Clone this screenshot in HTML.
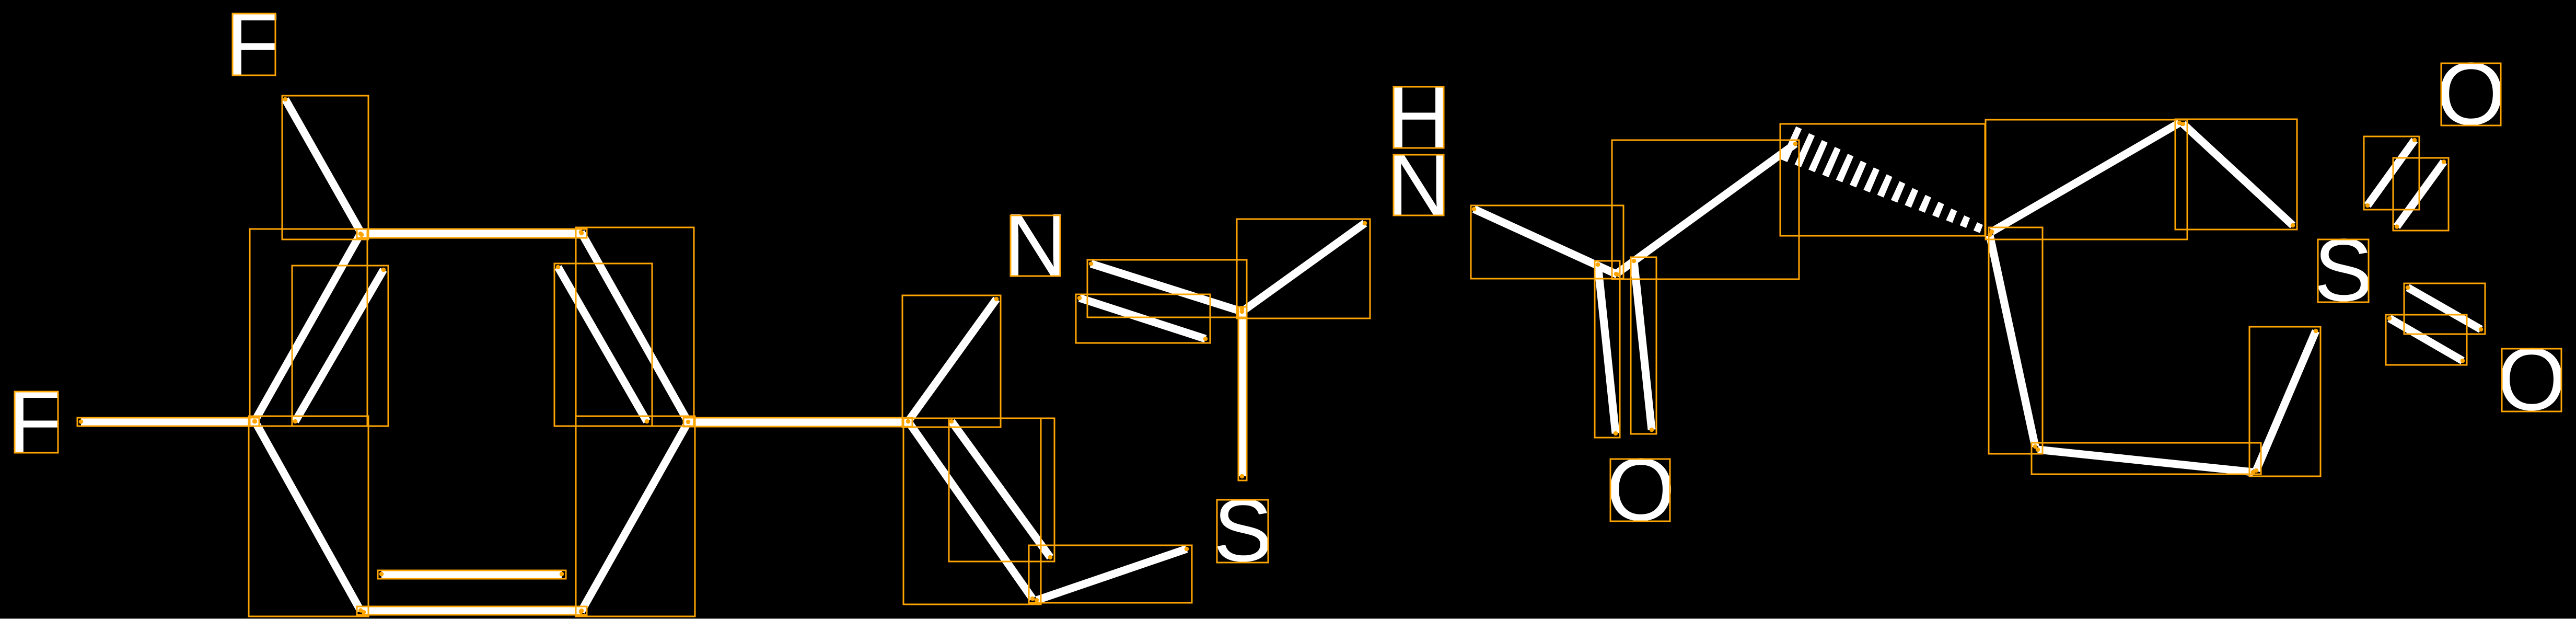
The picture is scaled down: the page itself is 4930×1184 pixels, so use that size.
<!DOCTYPE html>
<html>
<head>
<meta charset="utf-8">
<style>
html,body{margin:0;padding:0;background:#000;width:4930px;height:1184px;overflow:hidden}
svg{display:block}
text{font-family:"Liberation Sans",sans-serif;font-size:170px;fill:#fff}
.b line{stroke:#fff;stroke-width:15;stroke-linecap:butt}
.h polygon{fill:#fff}
.r rect{fill:none;stroke:#FFA500;stroke-width:3}
.d circle{fill:#FFA500}
</style>
</head>
<body>
<svg width="4930" height="1184" viewBox="0 0 4930 1184" xmlns="http://www.w3.org/2000/svg">
<rect width="4930" height="1184" fill="#000"/>
<rect x="0" y="1183" width="4930" height="1" fill="#aaa"/>
<g>
<text x="432" y="143">F</text>
<text x="15" y="865">F</text>
<text x="1921" y="527">N</text>
<text x="2322" y="1073">S</text>
<text x="2654" y="283">H</text>
<text x="2654" y="412">N</text>
<text x="3074" y="995">O</text>
<text x="4428" y="575">S</text>
<text x="4663" y="238">O</text>
<text x="4779" y="784">O</text>
</g>
<g class="b">
<line x1="155" y1="806.5" x2="487" y2="806.5"/>
<line x1="546" y1="190" x2="692" y2="447"/>
<line x1="487" y1="806" x2="690" y2="447"/>
<line x1="565" y1="806" x2="734" y2="516"/>
<line x1="488" y1="806" x2="690" y2="1168"/>
<line x1="693" y1="1168" x2="1113" y2="1168"/>
<line x1="730" y1="1098" x2="1075" y2="1098"/>
<line x1="692" y1="446.5" x2="1113" y2="446.5"/>
<line x1="1112" y1="444" x2="1317" y2="807"/>
<line x1="1068" y1="511" x2="1238" y2="806"/>
<line x1="1317" y1="807" x2="1112" y2="1170"/>
<line x1="1317" y1="807" x2="1738" y2="807"/>
<line x1="1738" y1="806" x2="1907" y2="572"/>
<line x1="1738" y1="806" x2="1976" y2="1145"/>
<line x1="1821" y1="806" x2="2010" y2="1066"/>
<line x1="1984" y1="1148" x2="2271" y2="1050"/>
<line x1="2088" y1="504.5" x2="2377" y2="596"/>
<line x1="2066" y1="570" x2="2307" y2="648"/>
<line x1="2377" y1="596" x2="2612" y2="427"/>
<line x1="2377" y1="590" x2="2377" y2="911"/>
<line x1="2821" y1="400" x2="3095" y2="525"/>
<line x1="3093" y1="524" x2="3436" y2="275"/>
<line x1="3058" y1="506" x2="3092" y2="829"/>
<line x1="3127" y1="499" x2="3161" y2="822"/>
<line x1="3812" y1="443" x2="4171" y2="235"/>
<line x1="4178" y1="237" x2="4388" y2="431"/>
<line x1="3808" y1="450" x2="3895" y2="854"/>
<line x1="3900" y1="860" x2="4312" y2="903"/>
<line x1="4318" y1="900" x2="4432" y2="633"/>
<line x1="4621" y1="268" x2="4531" y2="393"/>
<line x1="4677" y1="309.5" x2="4587" y2="433.5"/>
<line x1="4608" y1="550" x2="4748" y2="630"/>
<line x1="4573" y1="609" x2="4713" y2="690"/>
</g>
<g class="h">
<polygon points="3437.3,241.7 3448.3,246.7 3420.6,310 3408.3,305"/>
<polygon points="3462.1,254.8 3473.1,259.8 3446.9,319.7 3434.6,314.7"/>
<polygon points="3486.8,267.9 3497.8,272.9 3473.3,329.4 3461,324.4"/>
<polygon points="3511.6,281 3522.6,286 3499.6,339.1 3487.3,334.1"/>
<polygon points="3536.3,294.1 3547.3,299.1 3525.9,348.8 3513.6,343.8"/>
<polygon points="3561.1,307.2 3572.1,312.2 3552.3,358.5 3540,353.5"/>
<polygon points="3585.9,320.3 3596.9,325.3 3578.6,368.1 3566.3,363.1"/>
<polygon points="3610.6,333.4 3621.6,338.4 3604.9,377.8 3592.6,372.8"/>
<polygon points="3635.4,346.5 3646.4,351.5 3631.2,387.5 3618.9,382.5"/>
<polygon points="3660.1,359.6 3671.1,364.6 3657.6,397.2 3645.3,392.2"/>
<polygon points="3684.9,372.7 3695.9,377.7 3683.9,406.9 3671.6,401.9"/>
<polygon points="3709.7,385.8 3720.7,390.8 3710.2,416.6 3697.9,411.6"/>
<polygon points="3734.4,398.9 3745.4,403.9 3736.6,426.3 3724.3,421.3"/>
<polygon points="3759.2,412 3770.2,417 3762.9,436 3750.6,431"/>
<polygon points="3783.9,425.1 3794.9,430.1 3789.2,445.7 3776.9,440.7"/>
</g>
<g class="r">
<rect x="445" y="26" width="82" height="118"/>
<rect x="28" y="749" width="83" height="117"/>
<rect x="148" y="799" width="348" height="16"/>
<rect x="540" y="183" width="165" height="275"/>
<rect x="478" y="438" width="225" height="377"/>
<rect x="559" y="508" width="184" height="307"/>
<rect x="476" y="796" width="229" height="383"/>
<rect x="683" y="1160" width="440" height="16"/>
<rect x="723" y="1091" width="360" height="16"/>
<rect x="683" y="438" width="440" height="17"/>
<rect x="1102" y="435" width="226" height="380"/>
<rect x="1061" y="504" width="187" height="311"/>
<rect x="1102" y="796" width="228" height="383"/>
<rect x="1308" y="799" width="438" height="17"/>
<rect x="1934" y="412" width="95" height="116"/>
<rect x="1727" y="565" width="188" height="252"/>
<rect x="1729" y="800" width="263" height="356"/>
<rect x="1816" y="800" width="202" height="274"/>
<rect x="1969" y="1043" width="312" height="110"/>
<rect x="2329" y="956" width="98" height="120"/>
<rect x="2081" y="497" width="305" height="110"/>
<rect x="2059" y="563" width="257" height="93"/>
<rect x="2367" y="419" width="255" height="190"/>
<rect x="2370" y="587" width="16" height="332"/>
<rect x="2667" y="166" width="96" height="117"/>
<rect x="2667" y="296" width="96" height="116"/>
<rect x="2815" y="393" width="292" height="140"/>
<rect x="3085" y="268" width="358" height="266"/>
<rect x="3052" y="499" width="48" height="338"/>
<rect x="3121" y="492" width="49" height="338"/>
<rect x="3082" y="878" width="114" height="119"/>
<rect x="3407" y="237" width="392" height="214"/>
<rect x="3800" y="229" width="386" height="229"/>
<rect x="4163" y="228" width="233" height="211"/>
<rect x="3806" y="435" width="103" height="433"/>
<rect x="3888" y="847" width="439" height="60"/>
<rect x="4305" y="625" width="136" height="286"/>
<rect x="4436" y="458" width="97" height="120"/>
<rect x="4672" y="121" width="114" height="119"/>
<rect x="4788" y="667" width="114" height="120"/>
<rect x="4524" y="261" width="106" height="140"/>
<rect x="4580" y="302" width="106" height="139"/>
<rect x="4601" y="542" width="155" height="97"/>
<rect x="4566" y="602" width="155" height="96"/>
</g>
<g class="d">
<circle cx="155" cy="806.5" r="4.3"/><circle cx="487" cy="806" r="4.3"/><circle cx="546" cy="190" r="4.3"/><circle cx="692" cy="449" r="4.3"/><circle cx="690" cy="447" r="4.3"/>
<circle cx="565" cy="806" r="4.3"/><circle cx="734" cy="516" r="4.3"/><circle cx="488" cy="806" r="4.3"/><circle cx="690" cy="1167.5" r="4.3"/><circle cx="696" cy="1171" r="4.3"/><circle cx="1113" cy="1168" r="4.3"/>
<circle cx="730" cy="1098" r="4.3"/><circle cx="1075" cy="1098" r="4.3"/><circle cx="1113" cy="446" r="4.3"/><circle cx="1112" cy="444" r="4.3"/><circle cx="1317" cy="807" r="4.3"/>
<circle cx="1068" cy="511" r="4.3"/><circle cx="1238" cy="806" r="4.3"/><circle cx="1112" cy="1170" r="4.3"/><circle cx="1738" cy="806" r="4.3"/><circle cx="1907" cy="572" r="4.3"/>
<circle cx="1976" cy="1145" r="4.3"/><circle cx="1821" cy="806" r="4.3"/><circle cx="2010" cy="1066" r="4.3"/><circle cx="1984" cy="1148" r="4.3"/><circle cx="2271" cy="1050" r="4.3"/>
<circle cx="2088" cy="504.5" r="4.3"/><circle cx="2377" cy="596" r="4.3"/><circle cx="2377" cy="591" r="4.3"/><circle cx="2066" cy="570" r="4.3"/><circle cx="2307" cy="648" r="4.3"/><circle cx="2612" cy="427" r="4.3"/><circle cx="2377" cy="911" r="4.3"/>
<circle cx="2821" cy="400" r="4.3"/><circle cx="3095" cy="525" r="4.3"/><circle cx="3093" cy="524" r="4.3"/><circle cx="3436" cy="275" r="4.3"/><circle cx="3058" cy="506" r="4.3"/><circle cx="3092" cy="829" r="4.3"/><circle cx="3127" cy="499" r="4.3"/><circle cx="3161" cy="822" r="4.3"/>
<circle cx="3812" cy="443" r="4.3"/><circle cx="3808" cy="449" r="4.3"/><circle cx="4171" cy="235" r="4.3"/><circle cx="4178" cy="237" r="4.3"/><circle cx="4388" cy="431" r="4.3"/>
<circle cx="3895" cy="854" r="4.3"/><circle cx="3900" cy="860" r="4.3"/><circle cx="4312" cy="903" r="4.3"/><circle cx="4318" cy="900" r="4.3"/><circle cx="4432" cy="633" r="4.3"/>
<circle cx="4621" cy="268" r="4.3"/><circle cx="4531" cy="393" r="4.3"/><circle cx="4677" cy="309.5" r="4.3"/><circle cx="4587" cy="433.5" r="4.3"/><circle cx="4608" cy="550" r="4.3"/><circle cx="4748" cy="630" r="4.3"/><circle cx="4573" cy="609" r="4.3"/><circle cx="4713" cy="690" r="4.3"/>
</g>
</svg>
</body>
</html>
